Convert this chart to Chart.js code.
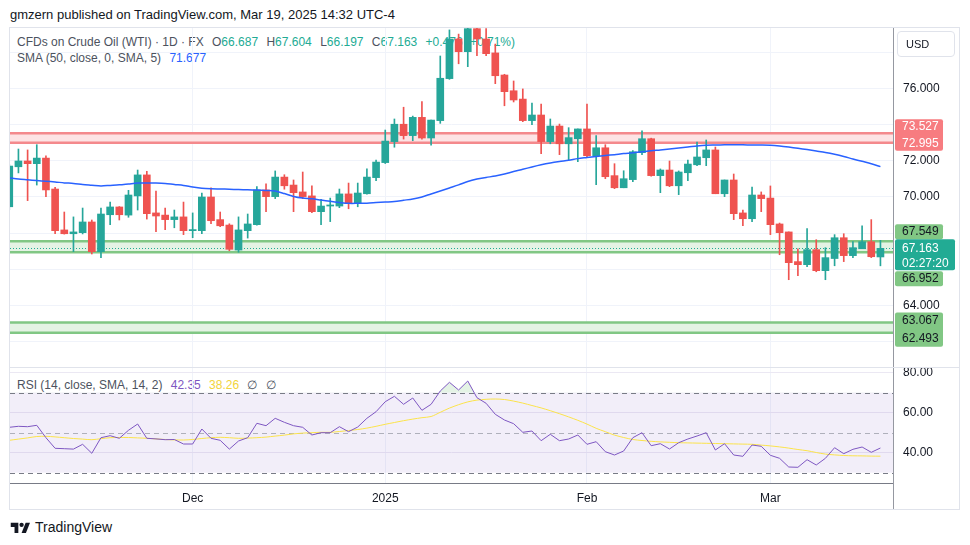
<!DOCTYPE html>
<html lang="en">
<head>
<meta charset="UTF-8">
<title>CFDs on Crude Oil (WTI) - 1D</title>
<script src="https://cdn.jsdelivr.net/npm/chart.js"></script>
<style>
    html, body { margin: 0; padding: 0; background: #fff; }
    body { width: 970px; height: 545px; position: relative; overflow: hidden; font-family: "Liberation Sans", Arial, sans-serif; color: #131722; }
    .abs { position: absolute; white-space: nowrap; }
    #credit { left: 10px; top: 7px; font-size: 13px; }
    #frame { left: 9px; top: 27px; width: 951px; height: 483px; border: 1px solid #e0e3eb; box-sizing: border-box; }
    .legend { font-size: 12px; color: #4c525e; }
    .legend span { margin-left: 5px; }
    #usd { left: 897px; top: 31px; width: 58px; height: 26px; border: 1px solid #e0e3eb; border-radius: 4px; box-sizing: border-box; font-size: 11px; line-height: 24px; padding-left: 8px; }
    #tvtext { left: 35px; top: 519px; font-size: 14px; }
    canvas { position: absolute; }
</style>
</head>
<body>
<div id="credit" class="abs">gmzern published on TradingView.com, Mar 19, 2025 14:32 UTC-4</div>
<div id="frame" class="abs"></div>

<div class="abs legend" style="left:17px; top:35px;">CFDs on Crude Oil (WTI) · 1D · FX <span>O<b style="font-weight:normal;color:#22ab94">66.687</b></span> <span>H<b style="font-weight:normal;color:#22ab94">67.604</b></span> <span>L<b style="font-weight:normal;color:#22ab94">66.197</b></span> <span>C<b style="font-weight:normal;color:#22ab94">67.163</b></span> <span style="color:#22ab94">+0.476 (+0.71%)</span></div>
<div class="abs legend" style="left:17px; top:51px;">SMA (50, close, 0, SMA, 5) <span style="color:#2962ff">71.677</span></div>
<div class="abs legend" style="left:17px; top:378px;">RSI (14, close, SMA, 14, 2) <span style="color:#7e57c2">42.35</span> <span style="color:#f2d43a">38.26</span> <span>∅</span> <span>∅</span></div>

<canvas id="main" width="950" height="340" style="left:10px; top:28px;"></canvas>
<canvas id="rsi" width="950" height="142" style="left:10px; top:368px;"></canvas>

<div id="usd" class="abs">USD</div>

<svg class="abs" style="left:10px; top:521px;" width="21" height="13" viewBox="0 0 36 24">
    <path d="M14 22H7V11H0V3h14v19z" fill="#131722"/>
    <circle cx="20" cy="7" r="4" fill="#131722"/>
    <path d="M28 22h-8l7.5-19h8L28 22z" fill="#131722"/>
</svg>
<div id="tvtext" class="abs">TradingView</div>

<script>
// daily candles, oldest first (index 0 is partly off the left edge)
const opens = [69.46, 71.67, 71.99, 71.84, 72.15, 70.44, 68.18, 67.97, 68.03, 68.62,
    66.98, 69.02, 69.45, 69.00, 70.06, 71.22, 69.12, 69.00, 68.75, 68.90,
    68.14, 68.14, 70.00, 68.75, 68.45, 67.07, 68.14, 68.47, 70.39, 70.02,
    71.10, 70.66, 70.28, 70.06, 69.19, 69.50, 69.50, 70.17, 69.63, 70.18,
    71.07, 71.90, 73.06, 74.02, 73.39, 74.40, 73.26, 74.22, 76.54, 78.73,
    78.03, 79.30, 78.73, 77.96, 76.74, 75.87, 75.41, 74.22, 74.53, 73.06,
    73.92, 72.94, 73.22, 73.76, 72.28, 72.72, 71.18, 70.51, 70.96, 72.45,
    73.22, 71.18, 71.49, 70.62, 71.34, 71.78, 72.17, 72.60, 70.18, 70.94,
    69.12, 68.80, 70.11, 69.94, 68.51, 68.07, 66.43, 66.26, 67.09, 65.93,
    66.60, 67.75, 66.76, 67.14, 67.53, 66.687];
const highs = [71.80, 72.65, 72.60, 72.89, 72.27, 70.54, 69.17, 68.90, 69.39, 68.73,
    69.39, 69.72, 69.47, 70.37, 71.49, 71.42, 70.33, 69.39, 69.28, 69.72,
    69.12, 70.22, 70.50, 69.17, 68.52, 68.90, 69.06, 70.57, 70.73, 71.44,
    71.23, 70.94, 71.38, 70.61, 69.87, 69.94, 70.44, 70.77, 70.77, 71.55,
    72.04, 73.70, 74.31, 74.96, 74.47, 75.27, 74.25, 77.79, 79.23, 79.00,
    79.60, 79.60, 79.30, 78.45, 76.78, 76.41, 75.97, 75.19, 75.14, 74.31,
    74.03, 73.83, 73.76, 75.14, 73.39, 72.89, 71.84, 71.45, 72.56, 73.66,
    73.25, 71.55, 71.99, 71.44, 72.04, 73.04, 73.15, 72.76, 70.94, 71.27,
    69.28, 70.55, 70.28, 70.61, 68.56, 68.07, 67.13, 68.25, 67.64, 67.20,
    67.92, 67.97, 67.53, 68.41, 68.75, 67.604];
const lows = [69.30, 71.33, 69.80, 70.66, 70.02, 67.97, 67.95, 66.98, 67.96, 66.85,
    66.65, 68.47, 68.73, 68.88, 69.28, 68.78, 68.08, 68.19, 68.30, 67.92,
    67.75, 67.97, 68.52, 68.36, 67.03, 66.95, 67.73, 68.45, 69.19, 69.91,
    70.43, 69.19, 69.91, 69.13, 68.47, 68.64, 69.41, 69.35, 69.46, 70.15,
    70.90, 71.85, 72.75, 73.20, 73.11, 73.20, 72.86, 74.07, 76.50, 77.36,
    77.20, 77.81, 77.81, 76.26, 75.04, 75.25, 74.16, 73.99, 72.39, 72.94,
    72.34, 72.06, 71.95, 72.17, 70.68, 71.01, 70.46, 70.51, 70.85, 72.34,
    71.15, 70.24, 70.57, 70.13, 70.90, 71.73, 71.73, 70.18, 70.02, 68.75,
    68.41, 68.64, 69.19, 67.92, 66.81, 65.43, 65.65, 66.15, 65.87, 65.43,
    66.20, 66.43, 66.65, 67.14, 66.65, 66.197];
const closes = [71.71, 71.99, 71.84, 72.15, 70.39, 68.14, 67.97, 68.07, 68.62, 66.98,
    69.06, 69.45, 69.02, 70.11, 71.22, 69.08, 68.95, 68.75, 68.90, 68.14,
    68.20, 70.00, 68.69, 68.41, 67.11, 68.18, 68.51, 70.39, 70.02, 71.10,
    70.62, 70.24, 70.02, 69.19, 69.50, 69.56, 70.17, 69.63, 70.22, 71.10,
    71.93, 73.09, 74.02, 73.39, 74.40, 73.26, 74.25, 76.56, 78.73, 78.03,
    79.30, 78.73, 77.92, 76.70, 75.82, 75.36, 74.22, 74.53, 73.06, 73.92,
    72.94, 73.28, 73.76, 72.28, 72.72, 71.12, 70.51, 71.01, 72.50, 73.22,
    71.18, 71.49, 70.62, 71.38, 71.82, 72.21, 72.60, 70.18, 70.94, 69.08,
    68.80, 70.11, 69.91, 68.47, 68.03, 66.37, 66.26, 67.09, 65.93, 66.65,
    67.75, 66.76, 67.20, 67.53, 66.70, 67.163];

// SMA(50)
const sma50 = [71.05, 70.99, 70.95, 70.91, 70.87, 70.83, 70.78, 70.75, 70.69, 70.65,
    70.61, 70.64, 70.67, 70.72, 70.77, 70.77, 70.77, 70.75, 70.69, 70.64,
    70.55, 70.48, 70.45, 70.44, 70.43, 70.41, 70.40, 70.38, 70.36, 70.33,
    70.19, 70.03, 69.94, 69.90, 69.83, 69.76, 69.70, 69.65, 69.65, 69.66,
    69.69, 69.72, 69.75, 69.82, 69.89, 70.00, 70.17, 70.33, 70.50, 70.67,
    70.86, 70.99, 71.08, 71.16, 71.27, 71.41, 71.53, 71.66, 71.78, 71.88,
    71.96, 72.03, 72.12, 72.18, 72.24, 72.29, 72.34, 72.40, 72.44, 72.50,
    72.56, 72.60, 72.65, 72.71, 72.76, 72.82, 72.86, 72.87, 72.88, 72.88,
    72.88, 72.87, 72.87, 72.86, 72.82, 72.76, 72.69, 72.62, 72.54, 72.46,
    72.36, 72.24, 72.10, 71.97, 71.84, 71.677];

// RSI(14) and its SMA(14)
const rsi = [52.7, 53.2, 53.0, 53.7, 47.5, 42.2, 42.0, 41.8, 44.2, 39.7,
    47.5, 48.5, 47.2, 51.2, 54.35, 47.2, 46.9, 46.5, 46.6, 44.35,
    44.35, 51.85, 47.2, 46.2, 41.8, 45.85, 47.5, 54.7, 53.5, 57.2,
    55.2, 53.5, 52.7, 48.85, 50.0, 50.0, 53.0, 50.5, 52.85, 57.2,
    60.5, 65.5, 68.2, 64.2, 67.35, 61.2, 64.2, 70.85, 75.2, 71.35,
    75.85, 67.5, 64.7, 59.2, 56.35, 54.5, 50.2, 50.85, 46.0, 49.2,
    46.0, 46.85, 48.85, 44.2, 45.5, 40.5, 38.85, 40.85, 47.5, 50.0,
    43.5, 44.5, 41.85, 45.0, 46.85, 48.35, 50.0, 41.35, 44.5, 38.85,
    38.2, 43.85, 43.2, 38.7, 37.2, 32.85, 32.7, 36.5, 33.85, 37.2,
    42.5, 39.5, 41.7, 42.85, 40.2, 42.35];
const rsiSma = [46.2, 46.8, 47.4, 48.1, 48.2, 47.9, 47.5, 47.1, 46.8, 46.5,
    47.0, 47.5, 47.6, 47.6, 47.4, 47.2, 46.9, 46.6, 46.4, 46.35,
    46.6, 47.1, 47.5, 47.7, 47.5, 47.2, 47.3, 47.5, 47.8, 48.3,
    48.8, 49.4, 49.8, 50.0, 50.2, 50.2, 50.6, 51.1, 51.6, 52.3,
    53.2, 54.2, 55.1, 56.0, 56.8, 57.5, 58.1, 60.2, 62.3, 64.0,
    65.4, 66.3, 66.7, 66.85, 66.6, 65.8, 64.8, 63.6, 62.4, 61.0,
    59.5, 57.9, 56.2, 54.3, 52.2, 50.5, 48.8, 47.6, 46.6, 46.1,
    45.7, 45.4, 45.2, 45.0, 44.9, 44.8, 44.7, 44.6, 44.5, 44.4,
    44.3, 44.2, 43.8, 43.4, 42.9, 42.3, 41.6, 41.0, 40.1, 39.3,
    38.9, 38.6, 38.45, 38.4, 38.3, 38.26];

// horizontal zones drawn on the chart
const redZone = [72.995, 73.527];
const greenZones = [[66.952, 67.549], [62.493, 63.067]];
const lastPrice = 67.163;
const countdown = '02:27:20';

// axes
const priceTicks = [62, 64, 66, 68, 70, 72, 74, 76, 78];
const shownPriceTicks = [64, 70, 72, 76];
const rsiTicks = [40, 60, 80];
const rsiLevels = [30, 50, 70];
const timeTicks = [20, 41, 63, 83];
const timeLabels = ['Dec', '2025', 'Feb', 'Mar'];

const TEAL = '#26a69a', RED = '#ef5350';
const candleColors = opens.map((o, i) => closes[i] >= o ? TEAL : RED);
const xMin = 0.08, xMax = 96.37;

Chart.defaults.font.family = '"Liberation Sans", Arial, sans-serif';
Chart.defaults.font.size = 12;
Chart.defaults.color = '#131722';
Chart.defaults.animation = false;

function hline(ctx, a, y) {
    ctx.beginPath(); ctx.moveTo(a.left, y); ctx.lineTo(a.right, y); ctx.stroke();
}

function tag(ctx, x, top, w, h, bg, texts, color) {
    ctx.fillStyle = bg;
    ctx.beginPath();
    ctx.roundRect(x, top, w, h, 2);
    ctx.fill();
    ctx.fillStyle = color;
    ctx.font = '12px "Liberation Sans", Arial, sans-serif';
    ctx.textBaseline = 'middle';
    ctx.textAlign = 'left';
    texts.forEach(t => ctx.fillText(t[0], x + 7, t[1]));
}

const mainPlugin = {
    id: 'zones',
    beforeDatasetsDraw(chart) {
        const {ctx, chartArea: a, scales: {y}} = chart;
        ctx.save();
        // red zone
        let t = y.getPixelForValue(redZone[1]), b = y.getPixelForValue(redZone[0]);
        ctx.fillStyle = '#fde3e4';
        ctx.fillRect(a.left, t, a.right - a.left, b - t);
        ctx.strokeStyle = '#f4898c'; ctx.lineWidth = 2.5;
        hline(ctx, a, t); hline(ctx, a, b);
        // green zones
        greenZones.forEach(z => {
            const zt = y.getPixelForValue(z[1]), zb = y.getPixelForValue(z[0]);
            ctx.fillStyle = '#e4f3e4';
            ctx.fillRect(a.left, zt, a.right - a.left, zb - zt);
            ctx.strokeStyle = '#81c784'; ctx.lineWidth = 2.5;
            hline(ctx, a, zt); hline(ctx, a, zb);
        });
        // last price dotted line
        ctx.strokeStyle = '#22ab94'; ctx.lineWidth = 1; ctx.setLineDash([1, 2]);
        hline(ctx, a, Math.round(y.getPixelForValue(lastPrice)) + 0.5);
        ctx.restore();
    },
    afterDraw(chart) {
        const {ctx, chartArea: a, scales: {y}} = chart;
        const x = a.right + 2;
        ctx.save();
        const r1 = y.getPixelForValue(redZone[1]), r0 = y.getPixelForValue(redZone[0]);
        tag(ctx, x, r1 - 14, 48, r0 - r1 + 22, '#f77c80',
            [[redZone[1].toFixed(3), r1 - 6], [redZone[0].toFixed(3), r0 + 1]], '#fff');
        const g1 = y.getPixelForValue(greenZones[0][1]);
        tag(ctx, x, g1 - 17, 48, 15, '#81c784', [[greenZones[0][1].toFixed(3), g1 - 9.5]], '#131722');
        const g0 = y.getPixelForValue(greenZones[0][0]);
        tag(ctx, x, g0 + 19, 48, 15, '#81c784', [[greenZones[0][0].toFixed(3), g0 + 26.5]], '#131722');
        const h1 = y.getPixelForValue(greenZones[1][1]), h0 = y.getPixelForValue(greenZones[1][0]);
        tag(ctx, x, h1 - 10, 48, h0 - h1 + 24, '#81c784',
            [[greenZones[1][1].toFixed(3), h1 - 1.5], [greenZones[1][0].toFixed(3), h0 + 6]], '#131722');
        const lp = y.getPixelForValue(lastPrice);
        tag(ctx, x, lp - 9, 60, 31, '#22ab94', [[lastPrice.toFixed(3), lp], [countdown, lp + 15]], '#fff');
        // pane separator
        ctx.strokeStyle = '#e0e3eb'; ctx.lineWidth = 1;
        ctx.beginPath(); ctx.moveTo(0, chart.height - 0.5); ctx.lineTo(chart.width, chart.height - 0.5); ctx.stroke();
        ctx.restore();
    }
};

new Chart(document.getElementById('main'), {
    type: 'bar',
    data: {
        datasets: [
            { type: 'line', data: sma50.map((v, i) => ({x: i, y: v})), borderColor: '#2962ff', borderWidth: 1.5, pointRadius: 0, tension: 0.3, order: 0 },
            { data: opens.map((o, i) => ({x: i, y: [o, closes[i]]})), backgroundColor: candleColors, barThickness: 7, minBarLength: 1, grouped: false, order: 1 },
            { data: lows.map((l, i) => ({x: i, y: [l, highs[i]]})), backgroundColor: candleColors, barThickness: 1, grouped: false, order: 2 }
        ]
    },
    options: {
        responsive: false,
        layout: { padding: 0 },
        plugins: { legend: { display: false }, tooltip: { enabled: false } },
        scales: {
            x: {
                type: 'linear', min: xMin, max: xMax, offset: false,
                ticks: { display: false },
                grid: { color: '#f0f3fa', drawTicks: false, offset: false },
                border: { display: false },
                afterBuildTicks: s => { s.ticks = timeTicks.map(v => ({value: v})); },
                afterFit: s => { s.height = 0; s.paddingLeft = 0; s.paddingRight = 0; }
            },
            y: {
                position: 'right', min: 60.552, max: 79.337,
                grid: { color: '#f0f3fa', drawTicks: false },
                border: { color: '#9598a1' },
                ticks: { padding: 10, color: '#131722', callback: v => shownPriceTicks.includes(v) ? v.toFixed(3) : '' },
                afterBuildTicks: s => { s.ticks = priceTicks.map(v => ({value: v})); },
                afterFit: s => { s.width = 67; s.paddingTop = 0; s.paddingBottom = 0; }
            }
        }
    },
    plugins: [mainPlugin]
});

const rsiPlugin = {
    id: 'rsiBand',
    beforeDatasetsDraw(chart) {
        const {ctx, chartArea: a, scales: {y}} = chart;
        const lo = y.getPixelForValue(rsiLevels[0]), mid = y.getPixelForValue(rsiLevels[1]), hi = y.getPixelForValue(rsiLevels[2]);
        ctx.save();
        ctx.fillStyle = 'rgba(126,87,194,0.1)';
        ctx.fillRect(a.left, hi, a.right - a.left, lo - hi);
        ctx.lineWidth = 1; ctx.setLineDash([5, 4]);
        ctx.strokeStyle = '#787b86';
        hline(ctx, a, Math.round(hi) + 0.5); hline(ctx, a, Math.round(lo) + 0.5);
        ctx.strokeStyle = 'rgba(120,123,134,0.55)';
        hline(ctx, a, Math.round(mid) + 0.5);
        ctx.restore();
    },
    afterDraw(chart) {
        const {ctx, chartArea: a} = chart;
        ctx.save();
        ctx.strokeStyle = '#9598a1'; ctx.lineWidth = 1;
        ctx.beginPath(); ctx.moveTo(a.right + 0.5, a.bottom); ctx.lineTo(a.right + 0.5, chart.height - 1); ctx.stroke();
        ctx.restore();
    }
};

new Chart(document.getElementById('rsi'), {
    type: 'line',
    data: {
        datasets: [
            { data: rsi.map((v, i) => ({x: i, y: v})), borderColor: '#7e57c2', borderWidth: 1, pointRadius: 0, tension: 0,
              fill: { target: { value: 70 }, above: 'rgba(76,175,80,0.15)', below: 'rgba(0,0,0,0)' } },
            { data: rsiSma.map((v, i) => ({x: i, y: v})), borderColor: '#fbe34a', borderWidth: 1, pointRadius: 0, tension: 0.3 }
        ]
    },
    options: {
        responsive: false,
        layout: { padding: 0 },
        plugins: { legend: { display: false }, tooltip: { enabled: false } },
        scales: {
            x: {
                type: 'linear', min: xMin, max: xMax, offset: false,
                grid: { color: '#f0f3fa', drawTicks: false },
                border: { color: '#787b86' },
                ticks: { padding: 8, color: '#131722', maxRotation: 0, callback: v => timeLabels[timeTicks.indexOf(v)] },
                afterBuildTicks: s => { s.ticks = timeTicks.map(v => ({value: v})); },
                afterFit: s => { s.height = 27; s.paddingLeft = 0; s.paddingRight = 0; }
            },
            y: {
                position: 'right', min: 24.85, max: 82.35,
                grid: { color: '#ebe8f3', drawTicks: false },
                border: { color: '#9598a1' },
                ticks: { padding: 10, color: '#131722', callback: v => v.toFixed(2) },
                afterBuildTicks: s => { s.ticks = rsiTicks.map(v => ({value: v})); },
                afterFit: s => { s.width = 67; s.paddingTop = 0; s.paddingBottom = 0; }
            }
        }
    },
    plugins: [rsiPlugin]
});
</script>
</body>
</html>
